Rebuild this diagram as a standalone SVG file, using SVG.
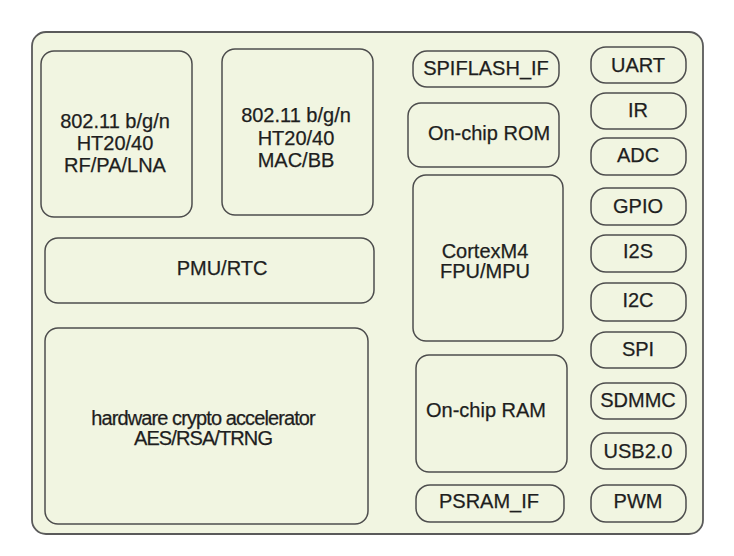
<svg xmlns="http://www.w3.org/2000/svg" width="734" height="556" viewBox="0 0 734 556">
<style>
.b{fill:#f1f5e1;stroke:#4d4d4d;stroke-width:1.5}
.o{fill:#f1f5e1;stroke:#5a5a5a;stroke-width:1.8}
text{font-family:"Liberation Sans",Arial,sans-serif;font-size:20px;fill:#1e1e1e;text-anchor:middle;stroke:#1e1e1e;stroke-width:0.25}
.c{letter-spacing:-0.9px}
</style>
<rect width="734" height="556" fill="#ffffff"/>
<g id="chip"><rect class="o" x="32" y="32" width="671" height="502" rx="14"/></g>
<g id="rf"><rect class="b" x="41" y="51" width="151" height="166" rx="13"/>
<text x="115" y="128">802.11 b/g/n</text><text x="115" y="150">HT20/40</text><text x="115" y="172">RF/PA/LNA</text></g>
<g id="mac"><rect class="b" x="222" y="49" width="151" height="166" rx="13"/>
<text x="296" y="122">802.11 b/g/n</text><text x="296" y="145">HT20/40</text><text x="296" y="167">MAC/BB</text></g>
<g id="pmu"><rect class="b" x="45" y="238" width="329" height="65" rx="13"/>
<text x="222" y="275">PMU/RTC</text></g>
<g id="crypto"><rect class="b" x="45" y="328" width="323" height="196" rx="13"/>
<text class="c" x="203" y="425" font-size="18">hardware crypto accelerator</text><text class="c" x="203" y="445" font-size="18">AES/RSA/TRNG</text></g>
<g id="spiflash"><rect class="b" x="413" y="51" width="146" height="36" rx="14"/><text x="486" y="75">SPIFLASH_IF</text></g>
<g id="rom"><rect class="b" x="408" y="103" width="151" height="64" rx="13"/><text x="489" y="140">On-chip ROM</text></g>
<g id="cpu"><rect class="b" x="413" y="175" width="150" height="166" rx="13"/>
<text x="485" y="258">CortexM4</text><text x="485" y="278">FPU/MPU</text></g>
<g id="ram"><rect class="b" x="416" y="355" width="151" height="117" rx="13"/><text x="486" y="417">On-chip RAM</text></g>
<g id="psram"><rect class="b" x="416" y="485" width="148" height="37" rx="14"/><text x="489" y="508">PSRAM_IF</text></g>
<g id="uart"><rect class="b" x="591" y="47" width="95" height="36" rx="15"/><text x="638" y="72">UART</text></g>
<g id="ir"><rect class="b" x="591" y="93" width="95" height="36" rx="15"/><text x="638" y="117">IR</text></g>
<g id="adc"><rect class="b" x="591" y="138" width="95" height="37" rx="15"/><text x="638" y="162">ADC</text></g>
<g id="gpio"><rect class="b" x="591" y="188" width="95" height="37" rx="15"/><text x="638" y="213">GPIO</text></g>
<g id="i2s"><rect class="b" x="591" y="235" width="95" height="37" rx="15"/><text x="638" y="258">I2S</text></g>
<g id="i2c"><rect class="b" x="591" y="283" width="95" height="38" rx="15"/><text x="638" y="307">I2C</text></g>
<g id="spi"><rect class="b" x="591" y="332" width="95" height="36" rx="15"/><text x="638" y="356">SPI</text></g>
<g id="sdmmc"><rect class="b" x="591" y="383" width="95" height="36" rx="15"/><text x="638" y="407">SDMMC</text></g>
<g id="usb"><rect class="b" x="591" y="433" width="95" height="36" rx="15"/><text x="638" y="458">USB2.0</text></g>
<g id="pwm"><rect class="b" x="591" y="485" width="95" height="37" rx="15"/><text x="638" y="508">PWM</text></g>
<g id="connectors"></g>
</svg>
